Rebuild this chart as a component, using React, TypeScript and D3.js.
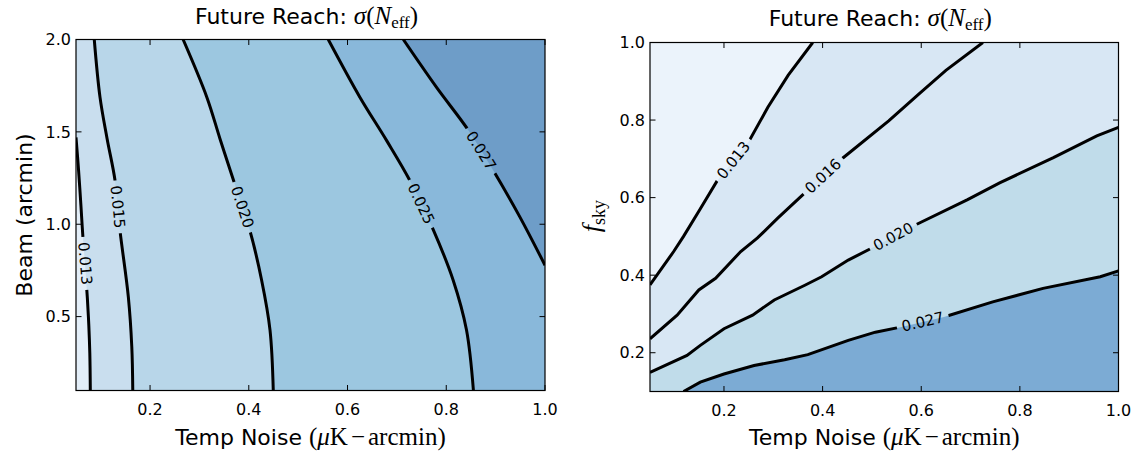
import React from 'react';
import * as d3 from 'd3';

type Pt = [number, number];

// ---------- axis ticks ----------
const tempNoiseTicks = [0.2, 0.4, 0.6, 0.8, 1.0];
const beamTicks = [0.5, 1.0, 1.5, 2.0];
const fskyTicks = [0.2, 0.4, 0.6, 0.8, 1.0];

// ---------- left panel: beam vs temp noise ----------
const leftLevels = ['0.013', '0.015', '0.020', '0.025', '0.027'];
const leftFills = ['#e3eef8', '#c9deee', '#b8d6e9', '#9cc7e0', '#89b8da', '#6e9dc8'];
// each contour listed so that larger sigma lies on the right-hand side of travel
const leftLine013: Pt[] = [[0.079, 0.1], [0.078, 0.3], [0.076, 0.45], [0.073, 0.6], [0.069, 0.76], [0.064, 0.93], [0.06, 1.1], [0.055, 1.3], [0.05, 1.47]];
const leftLine015: Pt[] = [[0.165, 0.1], [0.163, 0.337], [0.156, 0.607], [0.139, 0.968], [0.129, 1.238], [0.113, 1.463], [0.0986, 1.688], [0.087, 2.0]];
const leftLine020: Pt[] = [[0.4496, 0.1], [0.443, 0.427], [0.426, 0.697], [0.402, 0.968], [0.369, 1.238], [0.3416, 1.463], [0.315, 1.688], [0.267, 2.0]];
const leftLine025: Pt[] = [[0.855, 0.1], [0.841, 0.427], [0.814, 0.697], [0.774, 0.968], [0.726, 1.238], [0.679, 1.454], [0.625, 1.688], [0.561, 2.0]];
const leftLine027: Pt[] = [[1.0, 0.778], [0.949, 1.04], [0.895, 1.292], [0.845, 1.508], [0.78, 1.742], [0.713, 2.0]];
const leftLabelAt: Pt[] = [[0.068, 0.788], [0.1357, 1.094], [0.389, 1.094], [0.75, 1.112], [0.872, 1.4]];

// ---------- right panel: f_sky vs temp noise ----------
const rightLevels = ['0.013', '0.016', '0.020', '0.027'];
const rightFills = ['#ebf3fb', '#d8e7f4', '#d8e7f4', '#c0dcea', '#7cabd4'];
const rightLine013: Pt[] = [[0.05, 0.375], [0.098, 0.461], [0.118, 0.5], [0.149, 0.565], [0.186, 0.643], [0.251, 0.746], [0.289, 0.833], [0.33, 0.915], [0.38, 1.0]];
const rightLine016: Pt[] = [[0.05, 0.236], [0.105, 0.297], [0.149, 0.362], [0.183, 0.392], [0.234, 0.461], [0.268, 0.496], [0.309, 0.547], [0.364, 0.612], [0.438, 0.699], [0.534, 0.798], [0.595, 0.867], [0.65, 0.928], [0.725, 1.0]];
const rightLine020: Pt[] = [[0.05, 0.149], [0.125, 0.193], [0.152, 0.219], [0.2, 0.262], [0.258, 0.297], [0.302, 0.336], [0.364, 0.374], [0.398, 0.396], [0.452, 0.439], [0.5, 0.47], [0.589, 0.53], [0.694, 0.595], [0.759, 0.638], [0.868, 0.703], [0.956, 0.759], [1.0, 0.781]];
const rightLine027: Pt[] = [[0.118, 0.1], [0.152, 0.124], [0.2, 0.145], [0.261, 0.167], [0.323, 0.182], [0.37, 0.195], [0.452, 0.232], [0.507, 0.253], [0.558, 0.266], [0.646, 0.292], [0.745, 0.331], [0.847, 0.366], [0.963, 0.396], [1.0, 0.411]];
const rightLabelAt: Pt[] = [[0.217, 0.699], [0.401, 0.655], [0.544, 0.498], [0.602, 0.286]];

const SANS = 'DejaVu Sans';
const SERIF = 'Liberation Serif';

function boundaryCorners(first: Pt, last: Pt, w: number, h: number): Pt[] {
  const P = 2 * (w + h);
  const cl = (v: number, a: number) => Math.max(0, Math.min(a, v));
  const t = ([x, y]: Pt) => {
    const d = [Math.abs(y), Math.abs(x - w), Math.abs(y - h), Math.abs(x)];
    const m = Math.min(...d);
    if (m === d[0]) return cl(x, w);
    if (m === d[1]) return w + cl(y, h);
    if (m === d[2]) return w + h + (w - cl(x, w));
    return 2 * w + h + (h - cl(y, h));
  };
  const corners: [number, number, number][] = [[0, 0, 0], [w, 0, w], [w, h, w + h], [0, h, 2 * w + h]];
  const tEnd = t(last);
  const tStart = t(first);
  const span = (tStart - tEnd + P) % P;
  return corners
    .map((c) => ({ c, d: (c[2] - tEnd + P) % P }))
    .filter((o) => o.d > 0 && o.d < span)
    .sort((a, b) => a.d - b.d)
    .map((o) => [o.c[0], o.c[1]] as Pt);
}

function labelPlacement(pix: Pt[], target: Pt) {
  let best = { d: Infinity, x: 0, y: 0, a: 0 };
  for (let i = 0; i < pix.length - 1; i++) {
    const [x1, y1] = pix[i];
    const [x2, y2] = pix[i + 1];
    const dx = x2 - x1, dy = y2 - y1;
    const L2 = dx * dx + dy * dy || 1;
    let u = ((target[0] - x1) * dx + (target[1] - y1) * dy) / L2;
    u = Math.max(0, Math.min(1, u));
    const px = x1 + u * dx, py = y1 + u * dy;
    const d = Math.hypot(px - target[0], py - target[1]);
    if (d < best.d) {
      let a = (Math.atan2(dy, dx) * 180) / Math.PI;
      if (a > 90) a -= 180;
      if (a < -90) a += 180;
      best = { d, x: px, y: py, a };
    }
  }
  return best;
}

type PanelProps = {
  id: string;
  left: number; top: number; width: number; height: number;
  xDomain: [number, number]; yDomain: [number, number];
  xTicks: number[]; yTicks: number[];
  lines: Pt[][]; levels: string[]; fills: string[]; labelAt: Pt[];
  curve: d3.CurveFactory;
};

function Panel(p: PanelProps) {
  const { id, left, top, width: w, height: h } = p;
  const xs = d3.scaleLinear().domain(p.xDomain).range([0, w]);
  const ys = d3.scaleLinear().domain(p.yDomain).range([h, 0]);
  const lineGen = d3.line<Pt>().x((d) => xs(d[0])).y((d) => ys(d[1])).curve(p.curve);
  const tick = 5.5;
  const labels = p.lines.map((ln, i) => {
    const pix = ln.map((d) => [xs(d[0]), ys(d[1])] as Pt);
    const tgt: Pt = [xs(p.labelAt[i][0]), ys(p.labelAt[i][1])];
    return { ...labelPlacement(pix, tgt), text: p.levels[i] };
  });
  const gapW = 53, gapH = 16;
  return (
    <g transform={`translate(${left},${top})`}>
      <defs>
        <clipPath id={`clip-${id}`}>
          <rect x={0} y={0} width={w} height={h} />
        </clipPath>
        <mask id={`mask-${id}`} maskUnits="userSpaceOnUse" x={-20} y={-20} width={w + 40} height={h + 40}>
          <rect x={-20} y={-20} width={w + 40} height={h + 40} fill="white" />
          {labels.map((l, i) => (
            <rect key={i} x={-gapW / 2} y={-gapH / 2} width={gapW} height={gapH} fill="black"
              transform={`translate(${l.x},${l.y}) rotate(${l.a})`} />
          ))}
        </mask>
      </defs>
      <g clipPath={`url(#clip-${id})`}>
        <rect x={0} y={0} width={w} height={h} fill={p.fills[0]} />
        {p.lines.map((ln, i) => {
          const first: Pt = [xs(ln[0][0]), ys(ln[0][1])];
          const last: Pt = [xs(ln[ln.length - 1][0]), ys(ln[ln.length - 1][1])];
          const corners = boundaryCorners(first, last, w, h);
          const d = (lineGen(ln) || '') + corners.map((c) => `L${c[0]},${c[1]}`).join('') + 'Z';
          return <path key={i} d={d} fill={p.fills[i + 1]} stroke="none" />;
        })}
        <g mask={`url(#mask-${id})`}>
          {p.lines.map((ln, i) => (
            <path key={i} d={lineGen(ln) || ''} fill="none" stroke="#000" strokeWidth={3} />
          ))}
        </g>
      </g>
      {labels.map((l, i) => (
        <text key={i} x={0} y={0} transform={`translate(${l.x},${l.y}) rotate(${l.a})`}
          textAnchor="middle" dominantBaseline="central" fontFamily={SANS} fontSize={15} fill="#000">
          {l.text}
        </text>
      ))}
      {/* ticks (inward, all four sides) */}
      {p.xTicks.map((t, i) => (
        <g key={`xt${i}`} stroke="#000" strokeWidth={1}>
          <line x1={xs(t)} x2={xs(t)} y1={h} y2={h - tick} />
          <line x1={xs(t)} x2={xs(t)} y1={0} y2={tick} />
        </g>
      ))}
      {p.yTicks.map((t, i) => (
        <g key={`yt${i}`} stroke="#000" strokeWidth={1}>
          <line x1={0} x2={tick} y1={ys(t)} y2={ys(t)} />
          <line x1={w} x2={w - tick} y1={ys(t)} y2={ys(t)} />
        </g>
      ))}
      <rect x={0} y={0} width={w} height={h} fill="none" stroke="#000" strokeWidth={1.2} />
      {p.xTicks.map((t, i) => (
        <text key={`xl${i}`} x={xs(t)} y={h + 24} textAnchor="middle" fontFamily={SANS} fontSize={16} fill="#000">
          {t.toFixed(1)}
        </text>
      ))}
      {p.yTicks.map((t, i) => (
        <text key={`yl${i}`} x={-5} y={ys(t)} dy="0.36em" textAnchor="end" fontFamily={SANS} fontSize={16} fill="#000">
          {t.toFixed(1)}
        </text>
      ))}
    </g>
  );
}

function Title({ x, y }: { x: number; y: number }) {
  return (
    <text x={x} y={y} textAnchor="middle" fontFamily={SANS} fontSize={22} fill="#000">
      {'Future Reach: '}
      <tspan fontFamily={SERIF} fontSize={25} fontStyle="italic">σ</tspan>
      <tspan fontFamily={SERIF} fontSize={25}>(</tspan>
      <tspan fontFamily={SERIF} fontSize={25} fontStyle="italic">N</tspan>
      <tspan fontFamily={SERIF} fontSize={17} dy={4}>eff</tspan>
      <tspan fontFamily={SERIF} fontSize={25} dy={-4}>)</tspan>
    </text>
  );
}

function XLabel({ x, y }: { x: number; y: number }) {
  return (
    <text x={x} y={y} textAnchor="middle" fontFamily={SANS} fontSize={22} fill="#000">
      {'Temp Noise '}
      <tspan fontFamily={SERIF} fontSize={25}>(</tspan>
      <tspan fontFamily={SERIF} fontSize={25} fontStyle="italic">μ</tspan>
      <tspan fontFamily={SERIF} fontSize={25}>K</tspan>
      <tspan fontFamily={SERIF} fontSize={25} dx={3}>−</tspan>
      <tspan fontFamily={SERIF} fontSize={25} dx={3}>arcmin)</tspan>
    </text>
  );
}

export default function App() {
  const L = { left: 76, top: 39.5, width: 469, height: 351 };
  const R = { left: 650, top: 42.5, width: 468.5, height: 349 };
  return (
    <svg width={1135} height={455} viewBox="0 0 1135 455"
      style={{ position: 'absolute', left: 0, top: 0, background: '#fff' }}>
      <rect x={0} y={0} width={1135} height={455} fill="#fff" />
      <Panel id="left" {...L} xDomain={[0.05, 1.0]} yDomain={[0.1, 2.0]}
        xTicks={tempNoiseTicks} yTicks={beamTicks}
        lines={[leftLine013, leftLine015, leftLine020, leftLine025, leftLine027]}
        levels={leftLevels} fills={leftFills} labelAt={leftLabelAt} curve={d3.curveCatmullRom} />
      <Panel id="right" {...R} xDomain={[0.05, 1.0]} yDomain={[0.1, 1.0]}
        xTicks={tempNoiseTicks} yTicks={fskyTicks}
        lines={[rightLine013, rightLine016, rightLine020, rightLine027]}
        levels={rightLevels} fills={rightFills} labelAt={rightLabelAt} curve={d3.curveLinear} />
      <Title x={L.left + L.width / 2 - 4} y={24} />
      <Title x={R.left + R.width / 2 - 4} y={26} />
      <XLabel x={L.left + L.width / 2} y={445} />
      <XLabel x={R.left + R.width / 2} y={445} />
      <text transform="translate(32,215) rotate(-90)" textAnchor="middle" fontFamily={SANS} fontSize={22} fill="#000">
        Beam (arcmin)
      </text>
      <text transform="translate(600,216) rotate(-90)" textAnchor="middle" fill="#000">
        <tspan fontFamily={SERIF} fontSize={26} fontStyle="italic">f</tspan>
        <tspan fontFamily={SERIF} fontSize={18} dy={5}>sky</tspan>
      </text>
    </svg>
  );
}
